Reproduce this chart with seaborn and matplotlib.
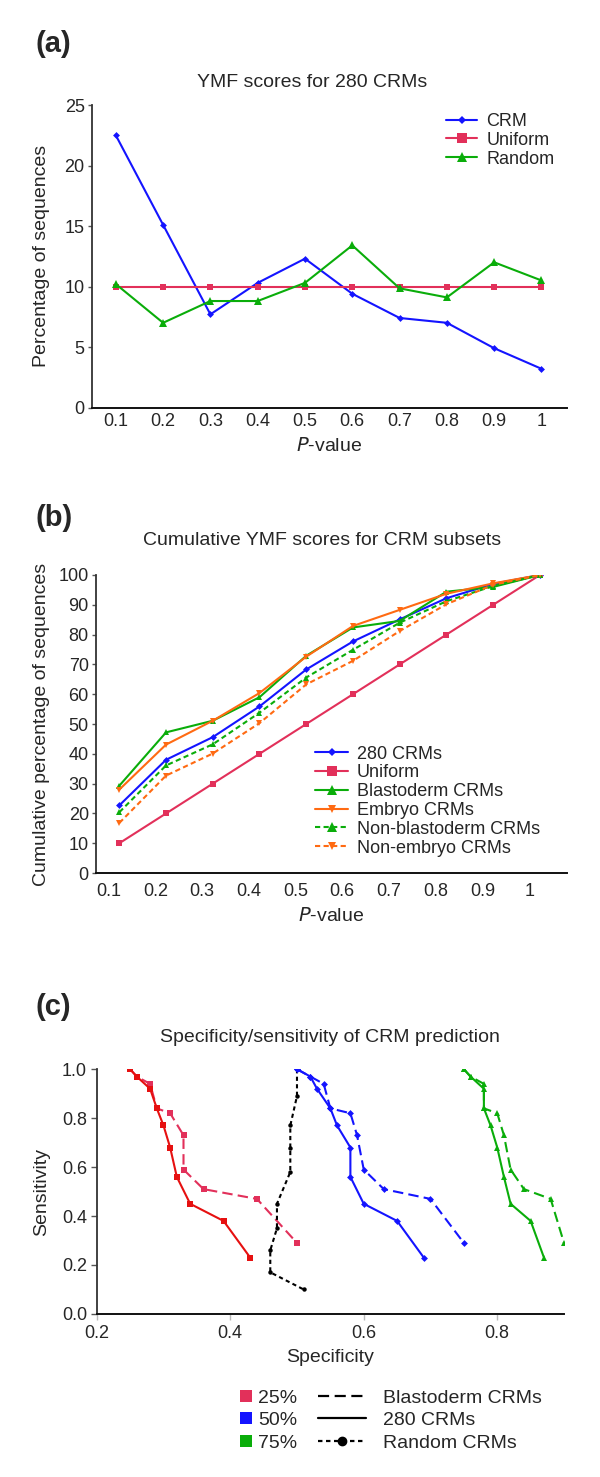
import matplotlib
matplotlib.use("Agg")
import numpy as np
import matplotlib.pyplot as plt
from matplotlib.lines import Line2D
import seaborn as sns

sns.set_theme(style="white")
plt.rcParams["font.family"] = ["Liberation Sans", "DejaVu Sans"]

# ---- (a) YMF scores for 280 CRMs
p_values = [0.1, 0.2, 0.3, 0.4, 0.5, 0.6, 0.7, 0.8, 0.9, 1.0]
p_labels = ["0.1", "0.2", "0.3", "0.4", "0.5", "0.6", "0.7", "0.8", "0.9", "1"]
crm_pct = [22.5, 15.1, 7.7, 10.3, 12.3, 9.4, 7.4, 7.0, 4.9, 3.2]
uniform_pct = [10, 10, 10, 10, 10, 10, 10, 10, 10, 10]
random_pct = [10.2, 7.0, 8.8, 8.8, 10.3, 13.4, 9.85, 9.1, 12.0, 10.5]

# ---- (b) cumulative YMF scores for CRM subsets
cum_280 = [22.7, 38.0, 45.6, 55.9, 68.3, 77.7, 85.1, 92.2, 97.0, 100]
cum_uniform = [10, 20, 30, 40, 50, 60, 70, 80, 90, 100]
cum_blasto = [29.3, 47.2, 51.1, 59.0, 72.9, 82.4, 84.6, 94.4, 96.0, 100]
cum_embryo = [28.0, 43.1, 51.1, 60.4, 72.6, 82.9, 88.3, 93.7, 97.2, 100]
cum_nonblasto = [20.4, 36.1, 43.2, 53.8, 65.6, 74.9, 84.0, 91.2, 96.3, 100]
cum_nonembryo = [16.8, 32.7, 40.1, 50.3, 63.3, 71.2, 81.2, 90.2, 96.7, 100]
b_labels = ["280 CRMs", "Uniform", "Blastoderm CRMs", "Embryo CRMs",
            "Non-blastoderm CRMs", "Non-embryo CRMs"]

# ---- (c) specificity / sensitivity
sens_280 = [1.0, 0.97, 0.92, 0.84, 0.77, 0.68, 0.56, 0.45, 0.38, 0.23]
spec_280_25 = [0.25, 0.26, 0.28, 0.29, 0.30, 0.31, 0.32, 0.34, 0.39, 0.43]
spec_280_50 = [0.50, 0.52, 0.53, 0.55, 0.56, 0.58, 0.58, 0.60, 0.65, 0.69]
spec_280_75 = [0.75, 0.76, 0.78, 0.78, 0.79, 0.80, 0.81, 0.82, 0.85, 0.87]
sens_blasto = [1.0, 0.97, 0.94, 0.84, 0.82, 0.73, 0.59, 0.51, 0.47, 0.29]
spec_blasto_25 = [0.25, 0.26, 0.28, 0.29, 0.31, 0.33, 0.33, 0.36, 0.44, 0.50]
spec_blasto_50 = [0.50, 0.52, 0.54, 0.55, 0.58, 0.59, 0.60, 0.63, 0.70, 0.75]
spec_blasto_75 = [0.75, 0.76, 0.78, 0.78, 0.80, 0.81, 0.82, 0.84, 0.88, 0.90]
sens_random = [1.0, 0.89, 0.77, 0.68, 0.58, 0.45, 0.35, 0.26, 0.17, 0.10]
spec_random = [0.50, 0.50, 0.49, 0.49, 0.49, 0.47, 0.47, 0.46, 0.46, 0.51]
pct_labels = ["25%", "50%", "75%"]
c_style_labels = ["Blastoderm CRMs", "280 CRMs", "Random CRMs"]

BLUE = "#1414ff"
PINK = "#e2305a"
RED = "#e61010"
GREEN = "#0aad0a"
ORANGE = "#ff6a12"

FS = 14
TFS = 13
DASH_B = (0, (2.5, 1.6))
DASH_C = (0, (5, 2.5))
DOT_C = (0, (2, 1.6))


def line(ax, x, y, color, marker, ms, ls="-", label=None, lw=1.5):
    sns.lineplot(x=x, y=y, ax=ax, color=color, marker=marker, markersize=ms,
                 markeredgewidth=0, linewidth=lw, linestyle=ls,
                 estimator=None, sort=False, label=label, legend=False)


def style_axes(ax):
    for s in ["top", "right"]:
        ax.spines[s].set_visible(False)
    ax.spines["left"].set_color("#333333")
    ax.spines["left"].set_linewidth(1.3)
    ax.spines["bottom"].set_color("#111111")
    ax.spines["bottom"].set_linewidth(1.4)
    ax.tick_params(axis="y", length=3, width=1, color="#555555", pad=2,
                   labelsize=TFS, left=True)
    ax.tick_params(axis="x", length=0, pad=4, labelsize=TFS)
    ax.grid(False)


fig = plt.figure(figsize=(6, 14.77), dpi=100)

# ---------------- (a)
ax = fig.add_axes([0.1528, 0.7241, 0.7922, 0.2048])
line(ax, p_values, crm_pct, BLUE, "D", 3.5, label="CRM")
line(ax, p_values, uniform_pct, PINK, "s", 5, label="Uniform")
line(ax, p_values, random_pct, GREEN, "^", 5.5, label="Random")
style_axes(ax)
ax.set_xlim(0.049, 1.054)
ax.set_ylim(0, 25)
ax.set_yticks([0, 5, 10, 15, 20, 25])
ax.set_xticks(p_values, p_labels)
ax.set_xlabel("$\\mathit{P}$-value", fontsize=FS, labelpad=5)
ax.set_ylabel("Percentage of sequences", fontsize=FS)
ax.yaxis.set_label_coords(-0.088, 0.5)
ax.text(0.4635, 1.076, "YMF scores for 280 CRMs", transform=ax.transAxes,
        ha="center", va="center", fontsize=FS)
ax.legend(loc="upper left", bbox_to_anchor=(0.743, 0.9235),
          bbox_transform=fig.transFigure, frameon=False, fontsize=13,
          handlelength=1.75, handletextpad=0.5, labelspacing=0.1,
          borderpad=0, borderaxespad=0, markerscale=1.3)
fig.text(0.0883, 0.9702, "(a)", fontsize=21, fontweight="bold",
         ha="center", va="center")

# ---------------- (b)
ax = fig.add_axes([0.1595, 0.4089, 0.7855, 0.2018])
line(ax, p_values, cum_280, BLUE, "D", 3.5, label=b_labels[0])
line(ax, p_values, cum_uniform, PINK, "s", 5, label=b_labels[1])
line(ax, p_values, cum_blasto, GREEN, "^", 5, label=b_labels[2])
line(ax, p_values, cum_embryo, ORANGE, "v", 4, label=b_labels[3])
line(ax, p_values, cum_nonblasto, GREEN, "^", 5, ls=DASH_B, label=b_labels[4])
line(ax, p_values, cum_nonembryo, ORANGE, "v", 4, ls=DASH_B, label=b_labels[5])
style_axes(ax)
ax.set_xlim(0.0495, 1.058)
ax.set_ylim(0, 100)
ax.set_yticks(np.arange(0, 101, 10))
ax.set_xticks(np.array(p_values) - 0.023, p_labels)
ax.tick_params(axis="x", pad=7)
ax.set_xlabel("$\\mathit{P}$-value", fontsize=FS, labelpad=5)
ax.set_ylabel("Cumulative percentage of sequences", fontsize=FS)
ax.yaxis.set_label_coords(-0.097, 0.5)
ax.text(0.481, 1.117, "Cumulative YMF scores for CRM subsets",
        transform=ax.transAxes, ha="center", va="center", fontsize=FS)
ax.legend(loc="upper left", bbox_to_anchor=(0.525, 0.4952),
          bbox_transform=fig.transFigure, frameon=False, fontsize=13,
          handlelength=1.85, handletextpad=0.45, labelspacing=0.1,
          borderpad=0, borderaxespad=0, markerscale=1.3)
fig.text(0.09, 0.649, "(b)", fontsize=21, fontweight="bold",
         ha="center", va="center")

# ---------------- (c)
ax = fig.add_axes([0.1612, 0.1104, 0.7788, 0.1657])
line(ax, spec_blasto_25, sens_blasto, PINK, "s", 5, ls=DASH_C)
line(ax, spec_280_25, sens_280, RED, "s", 5)
line(ax, spec_random, sens_random, "black", "o", 3.2, ls=DOT_C)
line(ax, spec_blasto_50, sens_blasto, BLUE, "D", 3.5, ls=DASH_C)
line(ax, spec_280_50, sens_280, BLUE, "D", 3.5)
line(ax, spec_blasto_75, sens_blasto, GREEN, "^", 5, ls=DASH_C)
line(ax, spec_280_75, sens_280, GREEN, "^", 5)
style_axes(ax)
ax.set_xlim(0.2, 0.9)
ax.set_ylim(0, 1.0)
ax.set_yticks([0.0, 0.2, 0.4, 0.6, 0.8, 1.0],
              ["0.0", "0.2", "0.4", "0.6", "0.8", "1.0"])
ax.set_xticks([0.2, 0.4, 0.6, 0.8], ["0.2", "0.4", "0.6", "0.8"])
ax.tick_params(axis="y", length=4, pad=3)
ax.tick_params(axis="x", length=4, width=1, color="#bbbbbb", pad=4,
               bottom=True)
ax.set_xlabel("Specificity", fontsize=FS, labelpad=5)
ax.set_ylabel("Sensitivity", fontsize=FS)
ax.yaxis.set_label_coords(-0.1, 0.5)
ax.text(0.499, 1.128, "Specificity/sensitivity of CRM prediction",
        transform=ax.transAxes, ha="center", va="center", fontsize=FS)
fig.text(0.0883, 0.3179, "(c)", fontsize=21, fontweight="bold",
         ha="center", va="center")

pct_handles = [Line2D([], [], linestyle="none", marker="s", markersize=9,
                      markeredgewidth=0, color=c) for c in (PINK, BLUE, GREEN)]
fig.legend(pct_handles, pct_labels, loc="upper left",
           bbox_to_anchor=(0.398, 0.0596), frameon=False, fontsize=FS,
           handlelength=0.7, handletextpad=0.3, labelspacing=0.25,
           borderpad=0, borderaxespad=0)
style_handles = [Line2D([], [], color="black", lw=1.6, linestyle=DASH_C),
                 Line2D([], [], color="black", lw=1.6),
                 Line2D([], [], color="black", lw=1.6, linestyle=DOT_C,
                        marker="o", markersize=6)]
fig.legend(style_handles, c_style_labels, loc="upper left",
           bbox_to_anchor=(0.53, 0.0596), frameon=False, fontsize=FS,
           handlelength=2.45, handletextpad=0.9, labelspacing=0.25,
           borderpad=0, borderaxespad=0)

fig.savefig("out.png", dpi=100, facecolor="white")
